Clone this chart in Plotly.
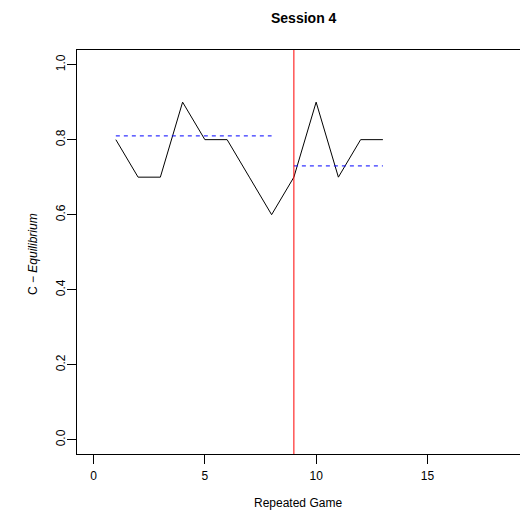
import plotly.graph_objects as go

# ---- data ----
games = list(range(1, 14))
c_equilibrium = [0.8, 0.7, 0.7, 0.9, 0.8, 0.8, 0.7, 0.6, 0.7, 0.9, 0.7, 0.8, 0.8]
mean1_x = [1, 8]
mean1_y = [0.81, 0.81]
mean2_x = [9, 13]
mean2_y = [0.73, 0.73]
break_game = 9
x_ticks = [0, 5, 10, 15]
y_ticks = [0.0, 0.2, 0.4, 0.6, 0.8, 1.0]
y_tick_text = ["0.0", "0.2", "0.4", "0.6", "0.8", "1.0"]

FONT = "Liberation Sans, Arial, Helvetica, sans-serif"

fig = go.Figure()
fig.add_trace(go.Scatter(x=games, y=c_equilibrium, mode="lines",
                         line=dict(color="black", width=1), showlegend=False))
fig.add_trace(go.Scatter(x=mean1_x, y=mean1_y, mode="lines",
                         line=dict(color="blue", width=1, dash="4px,4px"), showlegend=False))
fig.add_trace(go.Scatter(x=mean2_x, y=mean2_y, mode="lines",
                         line=dict(color="blue", width=1, dash="4px,4px"), showlegend=False))

fig.add_shape(type="line", xref="x", yref="paper", x0=break_game, x1=break_game,
              y0=0, y1=1, line=dict(color="red", width=1))

fig.update_layout(
    width=520, height=508,
    margin=dict(l=69, r=0, t=42, b=62),
    paper_bgcolor="white", plot_bgcolor="white",
    font=dict(family=FONT, size=12, color="black"),
    xaxis=dict(range=[-0.745, 19.52], tickvals=x_ticks, ticks="outside", ticklen=9,
               tickcolor="black", showline=True, linecolor="black", linewidth=1,
               mirror=True, showgrid=False, zeroline=False,
               tickfont=dict(size=12, family=FONT), ticklabelstandoff=2),
    yaxis=dict(range=[-0.038, 1.039], tickvals=y_ticks, ticktext=y_tick_text,
               ticks="outside", ticklen=9, tickcolor="black", tickangle=-90,
               showline=True, linecolor="black", linewidth=1, mirror=False,
               showgrid=False, zeroline=False,
               tickfont=dict(size=12, family=FONT), ticklabelstandoff=-3),
    annotations=[
        dict(text="<b>Session 4</b>", xref="paper", yref="paper", x=0.503, y=1.0804,
             xanchor="center", yanchor="middle", showarrow=False,
             font=dict(size=14, family=FONT)),
        dict(text="Repeated Game", xref="paper", yref="paper", x=0.491, y=-0.121,
             xanchor="center", yanchor="middle", showarrow=False,
             font=dict(size=12, family=FONT)),
        dict(text="C \u2212 <i>Equilibrium</i>", xref="paper", yref="paper", x=-0.0976, y=0.495,
             xanchor="center", yanchor="middle", showarrow=False, textangle=-90,
             font=dict(size=12, family=FONT)),
    ],
)

fig.write_html("out.html")
